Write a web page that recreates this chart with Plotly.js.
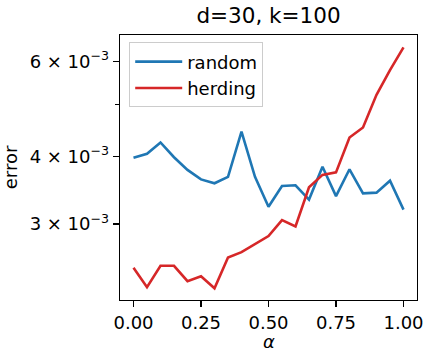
<!DOCTYPE html>
<html>
<head>
<meta charset="utf-8">
<script src="https://cdn.plot.ly/plotly-3.0.1.min.js"></script>
<style>html,body{margin:0;padding:0;background:#fff;}#chart{width:425px;height:351px;}</style>
</head>
<body>
<div id="chart"></div>
<script>
const alpha = [0.00,0.05,0.10,0.15,0.20,0.25,0.30,0.35,0.40,0.45,0.50,0.55,0.60,0.65,0.70,0.75,0.80,0.85,0.90,0.95,1.00];
const randomErr = [3.98e-3,4.05e-3,4.25e-3,3.99e-3,3.78e-3,3.63e-3,3.57e-3,3.67e-3,4.45e-3,3.67e-3,3.23e-3,3.53e-3,3.54e-3,3.33e-3,3.83e-3,3.38e-3,3.79e-3,3.42e-3,3.43e-3,3.61e-3,3.19e-3];
const herdingErr = [2.49e-3,2.29e-3,2.51e-3,2.51e-3,2.35e-3,2.40e-3,2.28e-3,2.60e-3,2.66e-3,2.75e-3,2.85e-3,3.05e-3,2.97e-3,3.51e-3,3.70e-3,3.74e-3,4.34e-3,4.53e-3,5.21e-3,5.79e-3,6.38e-3];
const xTickVals = [0, 0.25, 0.5, 0.75, 1.0];
const xTickText = ["0.00","0.25","0.50","0.75","1.00"];
const yTickVals = [3e-3, 4e-3, 6e-3];
const yTickText = ["3 × 10<sup>−3</sup>","4 × 10<sup>−3</sup>","6 × 10<sup>−3</sup>"];
const yMinorVals = [5e-3];

const font = "DejaVu Sans, sans-serif";
const traces = [
  {x: alpha, y: randomErr, name: "random", mode: "lines", line: {color: "#1f77b4", width: 2.6}},
  {x: alpha, y: herdingErr, name: "herding", mode: "lines", line: {color: "#d62728", width: 2.6}}
];
const layout = {
  width: 425, height: 351,
  margin: {l: 120, r: 8, t: 35, b: 51, pad: 0},
  paper_bgcolor: "#fff", plot_bgcolor: "#fff",
  font: {family: font, size: 18, color: "#000"},
  title: {text: "d=30, k=100", font: {family: font, size: 21.5, color: "#000"}, x: 0.5, xref: "paper", y: 0.955, yref: "container", yanchor: "middle"},
  xaxis: {
    range: [-0.05, 1.05], tickvals: xTickVals, ticktext: xTickText,
    showgrid: false, zeroline: false, showline: true, mirror: true, linecolor: "#000", linewidth: 1.3,
    ticks: "outside", ticklen: 6, tickwidth: 1.3, tickcolor: "#000",
    tickfont: {family: font, size: 18, color: "#000"}
  },
  yaxis: {
    type: "log", range: [-2.6638, -2.1723], tickvals: yTickVals, ticktext: yTickText,
    showgrid: false, zeroline: false, showline: true, mirror: true, linecolor: "#000", linewidth: 1.3,
    ticks: "outside", ticklen: 6, tickwidth: 1.3, tickcolor: "#000",
    tickfont: {family: font, size: 18, color: "#000"},
    minor: {tickvals: yMinorVals, ticks: "outside", ticklen: 3.5, tickwidth: 1.1, tickcolor: "#000", showgrid: false},
    title: {text: "error", font: {family: font, size: 18, color: "#000"}, standoff: 8}
  },
  annotations: [
    {text: "<i>α</i>", xref: "paper", yref: "paper", x: 0.5, y: -0.155, xanchor: "center", yanchor: "middle",
     showarrow: false, font: {family: font, size: 18, color: "#000"}}
  ],
  showlegend: true,
  legend: {x: 0.031, y: 0.972, xanchor: "left", yanchor: "top", bgcolor: "rgba(255,255,255,0.8)",
    itemwidth: 47, tracegroupgap: 0,
    bordercolor: "#cccccc", borderwidth: 1, font: {family: font, size: 18, color: "#000"}}
};
Plotly.newPlot("chart", traces, layout, {staticPlot: true, displayModeBar: false});
</script>
</body>
</html>
